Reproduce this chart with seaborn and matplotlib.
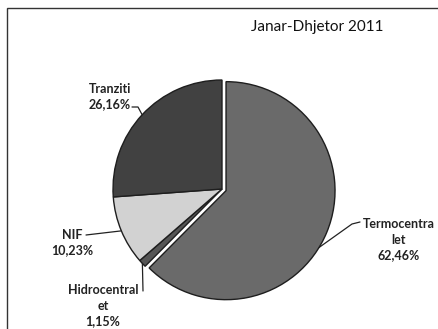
import matplotlib
matplotlib.use("Agg")
import matplotlib.pyplot as plt
from matplotlib.patches import Rectangle
import numpy as np
import seaborn as sns

# Electricity supply shares, January-December 2011
categories = ["Termocentralet", "Hidrocentralet", "NIF", "Tranziti"]
shares = [62.46, 1.15, 10.23, 26.16]
label_lines = [["Termocentra", "let"], ["Hidrocentral", "et"], ["NIF"], ["Tranziti"]]
title = "Janar-Dhjetor 2011"

slice_colors = ["#6a6a6a", "#555555", "#d2d2d2", "#414141"]
explode = [0.04, 0.0, 0.0, 0.0]

sns.set_theme(style="white")
plt.rcParams["font.family"] = ["Lato", "DejaVu Sans"]

W, H, DPI = 438, 329, 100
R = 109.0              # pie radius in pixels
CX, CY = 222.0, 189.0  # pie centre in pixels (from top-left)

fig = plt.figure(figsize=(W / DPI, H / DPI), dpi=DPI)
fig.patch.set_facecolor("white")
ax = fig.add_axes([0, 0, 1, 1])


def px(x, y):
    """Pixel position (top-left origin) -> data coordinates of the pie axes."""
    return (x - CX) / R, (CY - y) / R


wedges, _ = ax.pie(
    shares,
    explode=explode,
    colors=slice_colors,
    startangle=90,
    counterclock=False,
    wedgeprops=dict(edgecolor="#1e1e1e", linewidth=1.0),
)

ax.set_aspect("auto")
ax.set_xlim(-CX / R, (W - CX) / R)
ax.set_ylim(-(H - CY) / R, CY / R)
ax.axis("off")

# label blocks: centre position, leader path from the text, and where on the
# slice's arc (fraction of its sweep) the leader lands
label_pos = [(399, 239.5), (103, 305.5), (72, 242.5), (110, 96.5)]
leader_start = [[(360, 222), (352, 224)], [(143, 291)], [(86, 235)], [(132, 107), (138, 107)]]
arc_frac = [0.54, 0.5, 0.5, 0.5]

for w, cat_lines, share, (lx, ly), lead, fr in zip(wedges, label_lines, shares,
                                                   label_pos, leader_start, arc_frac):
    txt = "\n".join(cat_lines + [f"{share:.2f}%".replace(".", ",")])
    x, y = px(lx, ly)
    ax.text(x, y, txt, ha="center", va="center", fontsize=9, fontweight="bold",
            color="#222222", linespacing=1.35)
    ang = np.deg2rad(w.theta2 - fr * (w.theta2 - w.theta1))
    ex, ey = w.center[0] + w.r * np.cos(ang), w.center[1] + w.r * np.sin(ang)
    pts = [px(*p) for p in lead] + [(ex, ey)]
    ax.plot([p[0] for p in pts], [p[1] for p in pts], color="#222222", lw=0.9)

fig.text(317 / W, 1 - 27 / H, title, ha="center", va="center", fontsize=11, color="#111111")

# chart frame
fig.patches.append(Rectangle((7 / W, -0.1), 1.2, 1 - 8 / H + 0.1, transform=fig.transFigure,
                             fill=False, edgecolor="#333333", lw=1.0))

fig.savefig("out.png", dpi=DPI, facecolor="white")
